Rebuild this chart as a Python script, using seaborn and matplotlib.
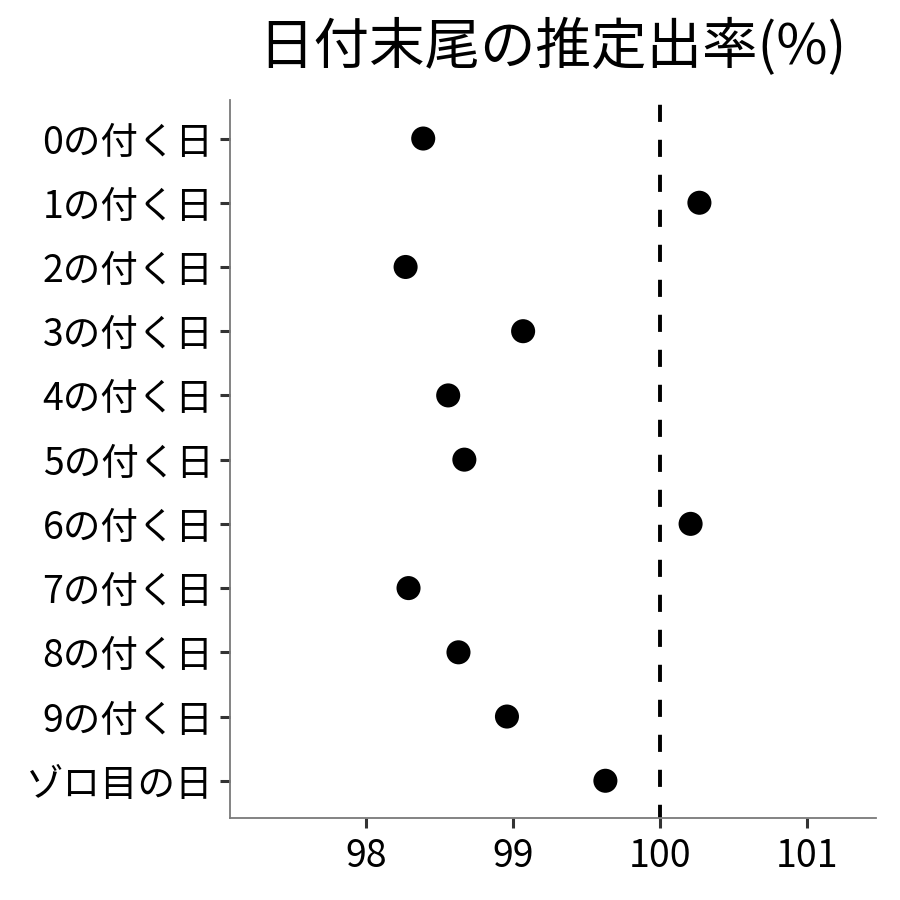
import matplotlib
matplotlib.use('Agg')
import matplotlib.pyplot as plt
import seaborn as sns
import pandas as pd

# Data
categories = ['0の付く日', '1の付く日', '2の付く日', '3の付く日', '4の付く日',
              '5の付く日', '6の付く日', '7の付く日', '8の付く日', '9の付く日',
              'ゾロ目の日']
rates = [98.39, 100.27, 98.27, 99.07, 98.56, 98.67, 100.21, 98.29, 98.63, 98.96, 99.63]
x_ticks = [98, 99, 100, 101]

df = pd.DataFrame({'category': categories, 'rate': rates})

sns.set_style('white')
plt.rcParams['font.family'] = ['Noto Sans CJK JP', 'DejaVu Sans']

fig = plt.figure(figsize=(9, 9), dpi=100)
ax = fig.add_axes([0.2556, 0.0911, 0.7174, 0.7978])

sns.scatterplot(data=df, x='rate', y='category', ax=ax, color='black',
                s=300, edgecolor='none', zorder=3)
ax.axvline(100, color='black', linestyle=(1.0, (4.4, 4.6)), linewidth=2.8, zorder=2)

ax.set_xlim(97.075, 101.47)
ax.set_ylim(len(categories) - 0.42, -0.6)
ax.set_xticks(x_ticks)
ax.set_xticklabels([str(t) for t in x_ticks])
ax.set_xlabel('')
ax.set_ylabel('')
ax.set_title('日付末尾の推定出率(%)', fontsize=40, pad=26, color='black')

for side in ['top', 'right']:
    ax.spines[side].set_visible(False)
for side in ['left', 'bottom']:
    ax.spines[side].set_color('#7a7a7a')
    ax.spines[side].set_linewidth(1.3)

ax.tick_params(axis='both', which='major', bottom=True, left=True,
               length=7, width=2.2, color='#333333',
               labelsize=27, labelcolor='black', pad=5)
ax.tick_params(axis='x', pad=7)

fig.savefig('out.png', dpi=100)
